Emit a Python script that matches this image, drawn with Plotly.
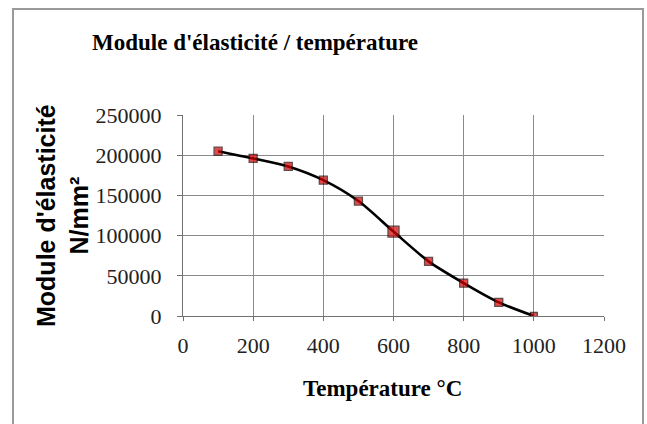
import plotly.graph_objects as go

temperature = [100, 200, 300, 400, 500, 600, 700, 800, 900, 1000]
module = [205000, 196000, 186000, 169000, 143000, 105000, 68000, 41000, 17000, 0]
marker_sizes = [8, 8, 8, 8, 8, 11, 8, 8, 8, 7]

title_text = "Module d'élasticité / température"
x_title = "Température °C"
y_title = "Module d'élasticité<br>N/mm²"

W, H = 647, 424
L, R, T, B = 183, 43, 115, 108
pw, ph = W - L - R, H - T - B

def px(x):
    return (x - L) / pw

def py(y):
    return (H - B - y) / ph

fig = go.Figure()
fig.add_trace(go.Scatter(
    x=temperature, y=module, mode="lines+markers",
    line=dict(color="black", width=2.6, shape="spline", smoothing=0.8),
    marker=dict(symbol="square", size=marker_sizes, color="#d80000",
                line=dict(color="#200000", width=1.3)),
    showlegend=False,
))

serif = "Liberation Serif, Times New Roman, serif"
fig.update_layout(
    width=W, height=H,
    margin=dict(l=L, r=R, t=T, b=B),
    paper_bgcolor="white", plot_bgcolor="white",
    title=dict(text="<b>" + title_text + "</b>", x=255 / W, xref="container",
               xanchor="center", y=1 - 42 / H, yref="container", yanchor="middle",
               font=dict(family=serif, size=23, color="black")),
    xaxis=dict(range=[0, 1200], tickvals=[0, 200, 400, 600, 800, 1000, 1200],
               showgrid=True, gridcolor="#8a8a8a", gridwidth=1,
               showline=True, linecolor="#707070", linewidth=1,
               ticks="outside", ticklen=4, tickcolor="#707070",
               ticklabelstandoff=6,
               tickfont=dict(family=serif, size=22, color="#222"),
               zeroline=False, fixedrange=True),
    yaxis=dict(range=[0, 250000], tickvals=[0, 50000, 100000, 150000, 200000, 250000],
               tickformat="d",
               showgrid=True, gridcolor="#8a8a8a", gridwidth=1,
               showline=True, linecolor="#707070", linewidth=1,
               ticks="outside", ticklen=5, tickcolor="#707070",
               ticklabelstandoff=11,
               tickfont=dict(family=serif, size=22, color="#222"),
               zeroline=False, fixedrange=True),
    annotations=[
        dict(text="<b>" + x_title + "</b>", xref="paper", yref="paper",
             x=px(382), y=py(388), xanchor="center", yanchor="middle", showarrow=False,
             font=dict(family=serif, size=23, color="black")),
        dict(text="<b>" + y_title + "</b>", xref="paper", yref="paper",
             x=px(62), y=py(216), xanchor="center", yanchor="middle", showarrow=False,
             textangle=-90,
             font=dict(family="Liberation Sans, Arial, sans-serif", size=25, color="black")),
    ],
    shapes=[
        dict(type="rect", xref="paper", yref="paper",
             x0=px(13), x1=px(643), y0=py(440), y1=py(9),
             line=dict(color="#9a9a9a", width=2), fillcolor="rgba(0,0,0,0)", layer="below"),
    ],
)

fig.write_html("out.html", config={"displayModeBar": False},
               post_script="document.body.style.margin='0';document.body.style.overflow='hidden';")
